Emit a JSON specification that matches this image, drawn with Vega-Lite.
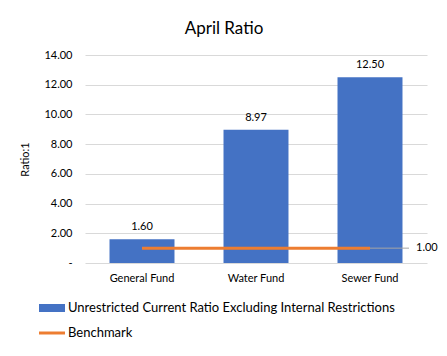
{
  "$schema": "https://vega.github.io/schema/vega-lite/v6.json",
  "width": 342,
  "height": 208,
  "autosize": {"type": "none"},
  "padding": {"left": 85, "top": 55, "right": 20, "bottom": 93},
  "background": "white",
  "title": {"text": "April Ratio", "fontSize": 17, "font": "Lato", "fontWeight": "normal", "color": "#000000", "anchor": "middle", "dx": -32, "offset": 11},
  "data": {"values": [
    {"fund": "General Fund", "ratio": 1.60, "benchmark": 1.0},
    {"fund": "Water Fund", "ratio": 8.97, "benchmark": 1.0},
    {"fund": "Sewer Fund", "ratio": 12.50, "benchmark": 1.0}
  ]},
  "encoding": {
    "x": {"field": "fund", "type": "nominal", "sort": null, "title": null,
      "scale": {"paddingInner": 0.43, "paddingOuter": 0.215},
      "axis": {"labelAngle": 0, "ticks": false, "domain": false, "labelPadding": 9, "labelFontSize": 11, "labelColor": "#000000"}}
  },
  "layer": [
    {
      "mark": {"type": "bar", "color": "#4472C4"},
      "encoding": {
        "y": {"field": "ratio", "type": "quantitative", "title": "Ratio:1",
          "scale": {"domain": [0, 14], "nice": false},
          "axis": {"values": [0, 2, 4, 6, 8, 10, 12, 14], "tickCount": 8, "labelOverlap": false, "labelExpr": "datum.value == 0 ? '-   ' : format(datum.value, '.2f')", "ticks": false, "domain": false, "grid": true, "gridColor": "#d9d9d9", "labelPadding": 13, "labelFontSize": 11, "labelColor": "#000000", "titleFontSize": 11, "titleFontWeight": "normal", "titleColor": "#000000", "titlePadding": 13}},
        "color": {"datum": "Unrestricted Current Ratio Excluding Internal Restrictions", "type": "nominal",
          "scale": {"domain": ["Unrestricted Current Ratio Excluding Internal Restrictions", "Benchmark"], "range": ["#4472C4", "#ED7D31"]},
          "legend": {"title": null, "orient": "none", "legendX": -46, "legendY": 240, "direction": "vertical",
            "symbolSize": 676, "labelFontSize": 13, "labelLimit": 0, "labelColor": "#000000", "labelOffset": 3, "rowPadding": 5,
            "encode": {"symbols": {"update": {
              "shape": {"signal": "datum.value === 'Benchmark' ? 'M-1,-0.115H1V0.115H-1Z' : 'M-1,-0.31H1V0.31H-1Z'"},
              "fill": {"signal": "datum.value === 'Benchmark' ? '#ED7D31' : '#4472C4'"},
              "strokeWidth": {"value": 0},
              "opacity": {"value": 1}
            }}}}}
      }
    },
    {
      "mark": {"type": "text", "baseline": "bottom", "dy": -7, "fontSize": 11, "color": "#000000"},
      "encoding": {
        "y": {"field": "ratio", "type": "quantitative"},
        "text": {"field": "ratio", "type": "quantitative", "format": ".2f"}
      }
    },
    {
      "mark": {"type": "line", "strokeWidth": 3},
      "encoding": {
        "y": {"field": "benchmark", "type": "quantitative"},
        "color": {"datum": "Benchmark", "type": "nominal"}
      }
    },
    {
      "transform": [{"filter": "datum.fund === 'Sewer Fund'"}],
      "mark": {"type": "rule", "color": "#a6a6a6", "strokeWidth": 1, "x2Offset": 39},
      "encoding": {
        "y": {"field": "benchmark", "type": "quantitative"},
        "x2": {"field": "fund"}
      }
    },
    {
      "transform": [{"filter": "datum.fund === 'Sewer Fund'"}],
      "mark": {"type": "text", "align": "left", "baseline": "middle", "dx": 46, "fontSize": 11, "color": "#000000"},
      "encoding": {
        "y": {"field": "benchmark", "type": "quantitative"},
        "text": {"field": "benchmark", "type": "quantitative", "format": ".2f"}
      }
    }
  ],
  "config": {
    "font": "Lato",
    "view": {"stroke": null}
  }
}
